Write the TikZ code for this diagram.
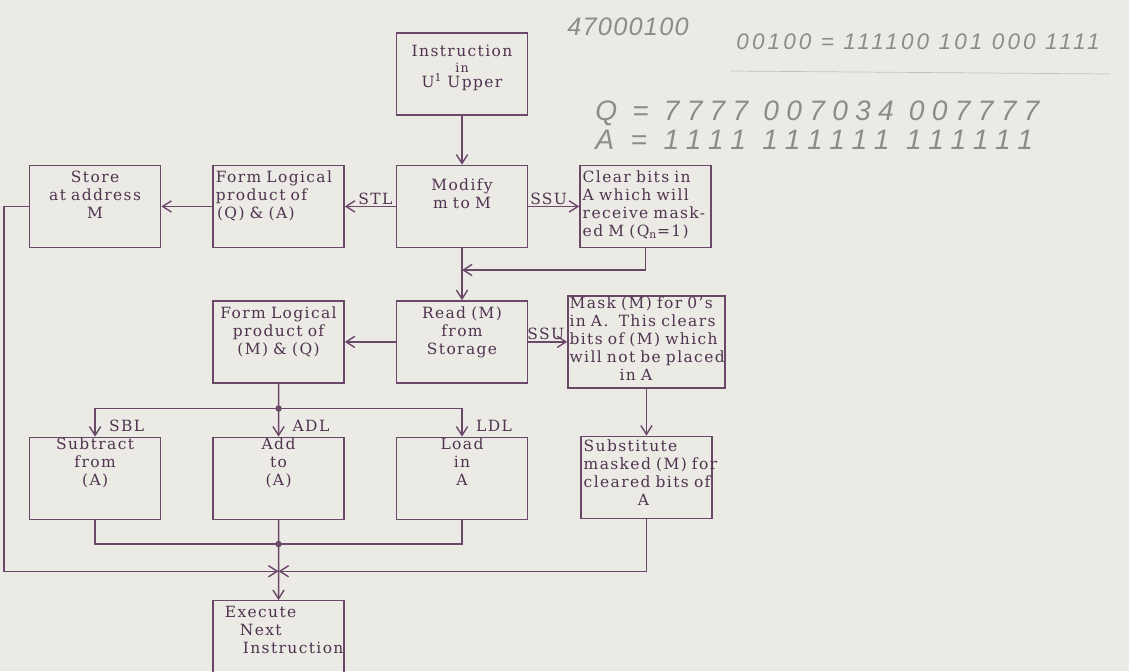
\documentclass[tikz,border=0pt]{standalone}
\usepackage{fontspec}
\setmainfont{DejaVu Serif}[LetterSpace=9]
\newfontfamily\handfont{Liberation Sans}[LetterSpace=20]
\usepackage{xcolor}
\usepackage{tikz}
\usetikzlibrary{arrows.meta,positioning,calc}
\definecolor{PaperGray}{HTML}{ECEAE5}
\definecolor{InkPurple}{HTML}{6A4868}
\definecolor{TextPurple}{HTML}{4F344F}
\definecolor{PencilGray}{HTML}{8E8C8A}
\newcommand{\spill}[1]{\leavevmode\rlap{#1}}
\tikzset{%
  block/.style={draw=InkPurple,line width=1pt,text=TextPurple,
    align=center,text width=31.35mm,inner xsep=0.7mm,inner ysep=1.5mm,
    text height=2.8mm,text depth=14.7mm,font=\fontsize{11}{12.8}\selectfont},
  leftblock/.style={block,align=left},
  flow/.style={-{Straight Barb[length=2.2mm,width=2.8mm]},line width=1pt,InkPurple},
  tie/.style={line width=1pt,InkPurple},
  tag/.style={text=TextPurple,inner sep=1pt,font=\fontsize{11}{12}\selectfont},
  hand/.style={text=PencilGray,inner sep=0pt}
}

\begin{document}
\begin{tikzpicture}[x=0.025cm,y=-0.025cm,node distance=13mm and 12.75mm]
  \clip (0,0) rectangle (1129,671);
  \fill[PaperGray] (0,0) rectangle (1129,671);

  % top row
  \node[block, text height=4.5mm, text depth=13mm] (instr) at (462,74)
    {Instruction\\[-2pt]{\small in}\\[-2pt]U\textsuperscript{1} Upper};
  \node[block, below=12.25mm of instr, text height=4.75mm, text depth=12.75mm] (modify) {Modify\\m to M};
  \node[leftblock, left=of modify] (formqa) {Form Logical\\product of\\\hspace*{0.3mm}(Q) \& (A)};
  \node[block, left=of formqa] (store) {Store\\at address\\M};
  \node[leftblock, right=of modify] (clear)
    {Clear bits in\\A which will\\receive mask-\\ed M (Q\textsubscript{n}=1)};

  % middle row
  \node[block, below=of modify] (read) {Read (M)\\from\\Storage};
  \node[block, left=of read] (formmq) {Form Logical\\product of\\(M) \& (Q)};
  \node[leftblock, right=9.75mm of read, text width=38.45mm, inner xsep=0.4mm,
    text height=1.75mm, text depth=18.25mm] (mask)
    {Mask (M) for 0's\\\spill{in A.\ \ This clears}\\bits of (M) which\\\spill{will not be placed}\\\hspace*{12.5mm}in A};

  % bottom row
  \node[block, below=13.25mm of formmq, text height=1.5mm, text depth=16mm] (add) {Add\\to\\(A)};
  \node[block, left=of add, text height=1.5mm, text depth=16mm] (subtract) {Subtract\\from\\(A)};
  \node[block, right=of add, text height=1.5mm, text depth=16mm] (load) {Load\\in\\A};
  \node[leftblock, below=11.75mm of mask, text height=2.25mm, text depth=15.25mm] (subst)
    {Substitute\\\spill{masked (M) for}\\\spill{cleared bits of}\\\hspace*{13.5mm}A};
  \node[leftblock, below=20mm of add] (exec)
    {\hspace*{2.25mm}Execute\\\hspace*{6mm}Next\\\hspace*{6.75mm}Instruction};

  % junctions
  \coordinate (fb) at ($(modify.south)!0.42!(read.north)$);
  \coordinate (split) at ($(formmq.south)!0.47!(add.north)$);
  \coordinate (merge) at ($(add.south)!0.3!(exec.north)$);
  \coordinate (join) at ($(add.south)!0.64!(exec.north)$);

  \draw[flow] (instr) -- (modify);
  \draw[flow] (modify) -- node[tag, above, pos=0.4] {STL} (formqa);
  \draw[flow] (formqa) -- (store);
  \draw[flow] (modify) -- node[tag, above, pos=0.4] {SSU} (clear);
  \draw[flow] (modify) -- (read);
  \draw[flow] (clear.south) |- (fb);
  \draw[flow] (read) -- (formmq);
  \draw[flow] (read) -- node[tag, above, pos=0.45] {SSU} (mask);
  \draw[flow] (mask) -- (subst);

  \draw[tie] (formmq.south) -- (split);
  \fill[InkPurple] (split) circle (0.8mm);
  \draw[flow] (split) -| node[tag, right=3mm, pos=0.8] {SBL} (subtract.north);
  \draw[flow] (split) -- node[tag, right=3mm, pos=0.6] {ADL} (add.north);
  \draw[flow] (split) -| node[tag, right=3mm, pos=0.8] {LDL} (load.north);

  \draw[tie] (subtract.south) |- (merge);
  \draw[tie] (load.south) |- (merge);
  \draw[tie] (add.south) -- (merge);
  \fill[InkPurple] (merge) circle (0.8mm);
  \draw[flow] (merge) -- (exec.north);

  \draw[flow] (store.west) -- ++(-25,0) |- (join);
  \draw[flow] (subst.south) |- (join);

  % pencil notes
  \node[hand, font=\handfont\itshape\addfontfeature{LetterSpace=5}\fontsize{18}{18}\selectfont] (note1) at (628,27) {47000100};
  \node[hand, font=\handfont\itshape\addfontfeature{LetterSpace=14}\fontsize{16}{16}\selectfont] (note2) at (918,42) {00100 = 111100 101 000 1111};
  \draw[PencilGray!55, line width=0.5pt] (730,71) -- (1110,74);
  \node[hand, anchor=west, font=\handfont\itshape\addfontfeature{LetterSpace=26}\fontsize{20}{20}\selectfont] (noteq) at (595,113) {Q = 7777 007034 007777};
  \node[hand, anchor=west, font=\handfont\itshape\addfontfeature{LetterSpace=31}\fontsize{20}{20}\selectfont] (notea) at (595,140) {A = 1111 111111 111111};
\end{tikzpicture}
\end{document}
